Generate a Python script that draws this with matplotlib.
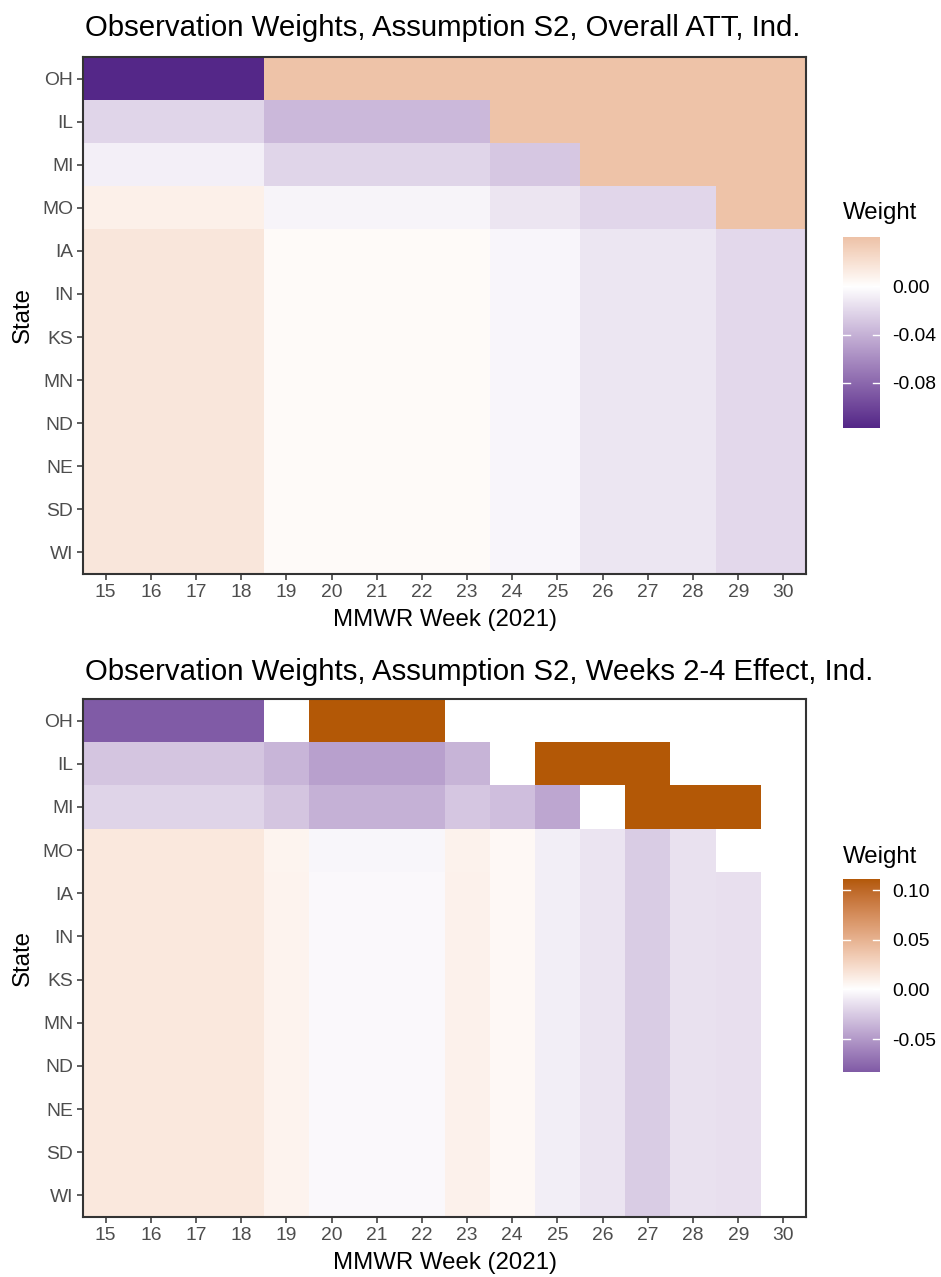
import numpy as np
import matplotlib
matplotlib.use("Agg")
import matplotlib.pyplot as plt
from matplotlib.colors import ListedColormap, Normalize

plt.rcParams['font.family'] = ['Liberation Sans', 'DejaVu Sans']

# ---------------- data ----------------
weeks = [15, 16, 17, 18, 19, 20, 21, 22, 23, 24, 25, 26, 27, 28, 29, 30]
states = ["OH", "IL", "MI", "MO", "IA", "IN", "KS", "MN", "ND", "NE", "SD", "WI"]
nan = np.nan

att_weights = [
    [-0.1175, -0.1175, -0.1175, -0.1175, 0.041, 0.041, 0.041, 0.041, 0.041, 0.041, 0.041, 0.041, 0.041, 0.041, 0.041, 0.041],
    [-0.0216, -0.0216, -0.0216, -0.0216, -0.0364, -0.0364, -0.0364, -0.0364, -0.0364, 0.041, 0.041, 0.041, 0.041, 0.041, 0.041, 0.041],
    [-0.0083, -0.0083, -0.0083, -0.0083, -0.0216, -0.0216, -0.0216, -0.0216, -0.0216, -0.0285, -0.0285, 0.041, 0.041, 0.041, 0.041, 0.041],
    [0.0103, 0.0103, 0.0103, 0.0103, -0.0057, -0.0057, -0.0057, -0.0057, -0.0057, -0.0135, -0.0135, -0.0205, -0.0205, -0.0205, 0.041, 0.041],
    [0.0167, 0.0167, 0.0167, 0.0167, 0.0032, 0.0032, 0.0032, 0.0032, 0.0032, -0.0052, -0.0052, -0.0128, -0.0128, -0.0128, -0.0200, -0.0200],
    [0.0167, 0.0167, 0.0167, 0.0167, 0.0032, 0.0032, 0.0032, 0.0032, 0.0032, -0.0052, -0.0052, -0.0128, -0.0128, -0.0128, -0.0200, -0.0200],
    [0.0167, 0.0167, 0.0167, 0.0167, 0.0032, 0.0032, 0.0032, 0.0032, 0.0032, -0.0052, -0.0052, -0.0128, -0.0128, -0.0128, -0.0200, -0.0200],
    [0.0167, 0.0167, 0.0167, 0.0167, 0.0032, 0.0032, 0.0032, 0.0032, 0.0032, -0.0052, -0.0052, -0.0128, -0.0128, -0.0128, -0.0200, -0.0200],
    [0.0167, 0.0167, 0.0167, 0.0167, 0.0032, 0.0032, 0.0032, 0.0032, 0.0032, -0.0052, -0.0052, -0.0128, -0.0128, -0.0128, -0.0200, -0.0200],
    [0.0167, 0.0167, 0.0167, 0.0167, 0.0032, 0.0032, 0.0032, 0.0032, 0.0032, -0.0052, -0.0052, -0.0128, -0.0128, -0.0128, -0.0200, -0.0200],
    [0.0167, 0.0167, 0.0167, 0.0167, 0.0032, 0.0032, 0.0032, 0.0032, 0.0032, -0.0052, -0.0052, -0.0128, -0.0128, -0.0128, -0.0200, -0.0200],
    [0.0167, 0.0167, 0.0167, 0.0167, 0.0032, 0.0032, 0.0032, 0.0032, 0.0032, -0.0052, -0.0052, -0.0128, -0.0128, -0.0128, -0.0200, -0.0200],
]

wk24_weights = [
    [-0.083, -0.083, -0.083, -0.083, nan, 0.1111, 0.1111, 0.1111, nan, nan, nan, nan, nan, nan, nan, nan],
    [-0.0282, -0.0282, -0.0282, -0.0282, -0.0361, -0.0467, -0.0467, -0.0467, -0.0365, nan, 0.1111, 0.1111, 0.1111, nan, nan, nan],
    [-0.0209, -0.0209, -0.0209, -0.0209, -0.0282, -0.0381, -0.0381, -0.0381, -0.0280, -0.0316, -0.0435, nan, 0.1111, 0.1111, 0.1111, nan],
    [0.0146, 0.0146, 0.0146, 0.0146, 0.0070, -0.0043, -0.0043, -0.0043, 0.0084, 0.0042, -0.0082, -0.0132, -0.0246, -0.0143, nan, nan],
    [0.0146, 0.0146, 0.0146, 0.0146, 0.0075, -0.0033, -0.0033, -0.0033, 0.0088, 0.0042, -0.0082, -0.0132, -0.0246, -0.0143, -0.0152, nan],
    [0.0146, 0.0146, 0.0146, 0.0146, 0.0075, -0.0033, -0.0033, -0.0033, 0.0088, 0.0042, -0.0082, -0.0132, -0.0246, -0.0143, -0.0152, nan],
    [0.0146, 0.0146, 0.0146, 0.0146, 0.0075, -0.0033, -0.0033, -0.0033, 0.0088, 0.0042, -0.0082, -0.0132, -0.0246, -0.0143, -0.0152, nan],
    [0.0146, 0.0146, 0.0146, 0.0146, 0.0075, -0.0033, -0.0033, -0.0033, 0.0088, 0.0042, -0.0082, -0.0132, -0.0246, -0.0143, -0.0152, nan],
    [0.0146, 0.0146, 0.0146, 0.0146, 0.0075, -0.0033, -0.0033, -0.0033, 0.0088, 0.0042, -0.0082, -0.0132, -0.0246, -0.0143, -0.0152, nan],
    [0.0146, 0.0146, 0.0146, 0.0146, 0.0075, -0.0033, -0.0033, -0.0033, 0.0088, 0.0042, -0.0082, -0.0132, -0.0246, -0.0143, -0.0152, nan],
    [0.0146, 0.0146, 0.0146, 0.0146, 0.0075, -0.0033, -0.0033, -0.0033, 0.0088, 0.0042, -0.0082, -0.0132, -0.0246, -0.0143, -0.0152, nan],
    [0.0146, 0.0146, 0.0146, 0.0146, 0.0075, -0.0033, -0.0033, -0.0033, 0.0088, 0.0042, -0.0082, -0.0132, -0.0246, -0.0143, -0.0152, nan],
]

titles = ["Observation Weights, Assumption S2, Overall ATT, Ind.",
          "Observation Weights, Assumption S2, Weeks 2-4 Effect, Ind."]
cbar_ticks = [[0.00, -0.04, -0.08], [0.10, 0.05, 0.00, -0.05]]
cbar_ticklabels = [["0.00", "-0.04", "-0.08"], ["0.10", "0.05", "0.00", "-0.05"]]

low_col, mid_col, high_col = "#542788", "#FFFFFF", "#B35806"

# ---------------- Lab colour ramp (like ggplot gradient2) ----------------
M = np.array([[0.4124564, 0.3575761, 0.1804375],
              [0.2126729, 0.7151522, 0.0721750],
              [0.0193339, 0.1191920, 0.9503041]])
WHITE = np.array([0.95047, 1.0, 1.08883])


def hex2rgb(h):
    h = h.lstrip('#')
    return np.array([int(h[i:i + 2], 16) / 255 for i in (0, 2, 4)])


def rgb2lab(c):
    lin = np.where(c <= 0.04045, c / 12.92, ((c + 0.055) / 1.055) ** 2.4)
    xyz = M @ lin / WHITE
    d = 6 / 29
    f = np.where(xyz > d ** 3, np.cbrt(xyz), xyz / (3 * d * d) + 4 / 29)
    return np.array([116 * f[1] - 16, 500 * (f[0] - f[1]), 200 * (f[1] - f[2])])


def lab2rgb(lab):
    L, a, b = lab
    fy = (L + 16) / 116
    fx = fy + a / 500
    fz = fy - b / 200
    d = 6 / 29
    f = np.array([fx, fy, fz])
    xyz = np.where(f > d, f ** 3, 3 * d * d * (f - 4 / 29)) * WHITE
    lin = np.linalg.inv(M) @ xyz
    lin = np.clip(lin, 0, 1)
    c = np.where(lin <= 0.0031308, 12.92 * lin, 1.055 * lin ** (1 / 2.4) - 0.055)
    return np.clip(c, 0, 1)


labs = [rgb2lab(hex2rgb(h)) for h in (low_col, mid_col, high_col)]
cols = []
for t in np.linspace(0, 1, 511):
    if t <= 0.5:
        s = t * 2
        lab = labs[0] * (1 - s) + labs[1] * s
    else:
        s = (t - 0.5) * 2
        lab = labs[1] * (1 - s) + labs[2] * s
    cols.append(lab2rgb(lab))
cmap = ListedColormap(np.array(cols))

# ---------------- figure ----------------
W, H = 941, 1277
fig = plt.figure(figsize=(W / 100, H / 100), dpi=100)

panels = [
    dict(data=att_weights, top=57, bottom=574, cb_top=237, cb_bot=428, title_y=28, xlab_y=620, leg_y=213),
    dict(data=wk24_weights, top=699, bottom=1217, cb_top=879, cb_bot=1072, title_y=672, xlab_y=1263, leg_y=857),
]

left, right = 83, 806
border_col = "#333333"
tick_col = "#4D4D4D"
fs_title, fs_axis, fs_tick = 21.2, 17.3, 13.9

for i, p in enumerate(panels):
    arr = np.ma.masked_invalid(np.array(p["data"], dtype=float))
    vmin, vmax = float(arr.min()), float(arr.max())
    m = max(abs(vmin), abs(vmax))
    norm = Normalize(-m, m)

    ax = fig.add_axes([left / W, 1 - p["bottom"] / H, (right - left) / W, (p["bottom"] - p["top"]) / H])
    xe = np.arange(len(weeks) + 1) + weeks[0] - 0.5
    ye = np.arange(len(states) + 1) - 0.5
    ax.pcolormesh(xe, ye, arr, cmap=cmap, norm=norm, shading="flat", edgecolors="none", antialiased=False)
    ax.set_xlim(xe[0], xe[-1])
    ax.set_ylim(ye[-1], ye[0])
    ax.set_xticks(weeks)
    ax.set_xticklabels([str(w) for w in weeks])
    ax.set_yticks(range(len(states)))
    ax.set_yticklabels(states)
    ax.tick_params(axis="both", length=4.5, width=1.1, color=border_col, labelcolor=tick_col,
                   labelsize=fs_tick, pad=2.5)
    for s in ax.spines.values():
        s.set_color(border_col)
        s.set_linewidth(1.5)

    fig.text(85 / W, 1 - p["title_y"] / H, titles[i], fontsize=fs_title, va="center", ha="left", color="black")
    fig.text(445 / W, 1 - p["xlab_y"] / H, "MMWR Week (2021)", fontsize=fs_axis, va="center", ha="center")
    fig.text(23 / W, 1 - (p["top"] + p["bottom"]) / 2 / H, "State", fontsize=fs_axis, va="center", ha="center",
             rotation=90)

    # colour bar
    cax = fig.add_axes([843 / W, 1 - p["cb_bot"] / H, 37 / W, (p["cb_bot"] - p["cb_top"]) / H])
    grad = np.linspace(vmin, vmax, 300)[:, None]
    cax.imshow(grad, aspect="auto", cmap=cmap, norm=norm, origin="lower", extent=[0, 1, vmin, vmax],
               interpolation="bilinear")
    cax.set_xlim(0, 1)
    cax.set_ylim(vmin, vmax)
    cax.set_xticks([])
    cax.yaxis.tick_right()
    cax.set_yticks(cbar_ticks[i])
    cax.set_yticklabels(cbar_ticklabels[i])
    cax.tick_params(axis="y", length=0, pad=9, labelsize=fs_tick, labelcolor="black")
    for tv in cbar_ticks[i]:
        cax.plot([0, 0.2], [tv, tv], color="white", lw=1.0)
        cax.plot([0.8, 1], [tv, tv], color="white", lw=1.0)
    for s in cax.spines.values():
        s.set_visible(False)
    fig.text(843 / W, 1 - p["leg_y"] / H, "Weight", fontsize=fs_axis, va="center", ha="left")

fig.savefig("out.png", dpi=100)
